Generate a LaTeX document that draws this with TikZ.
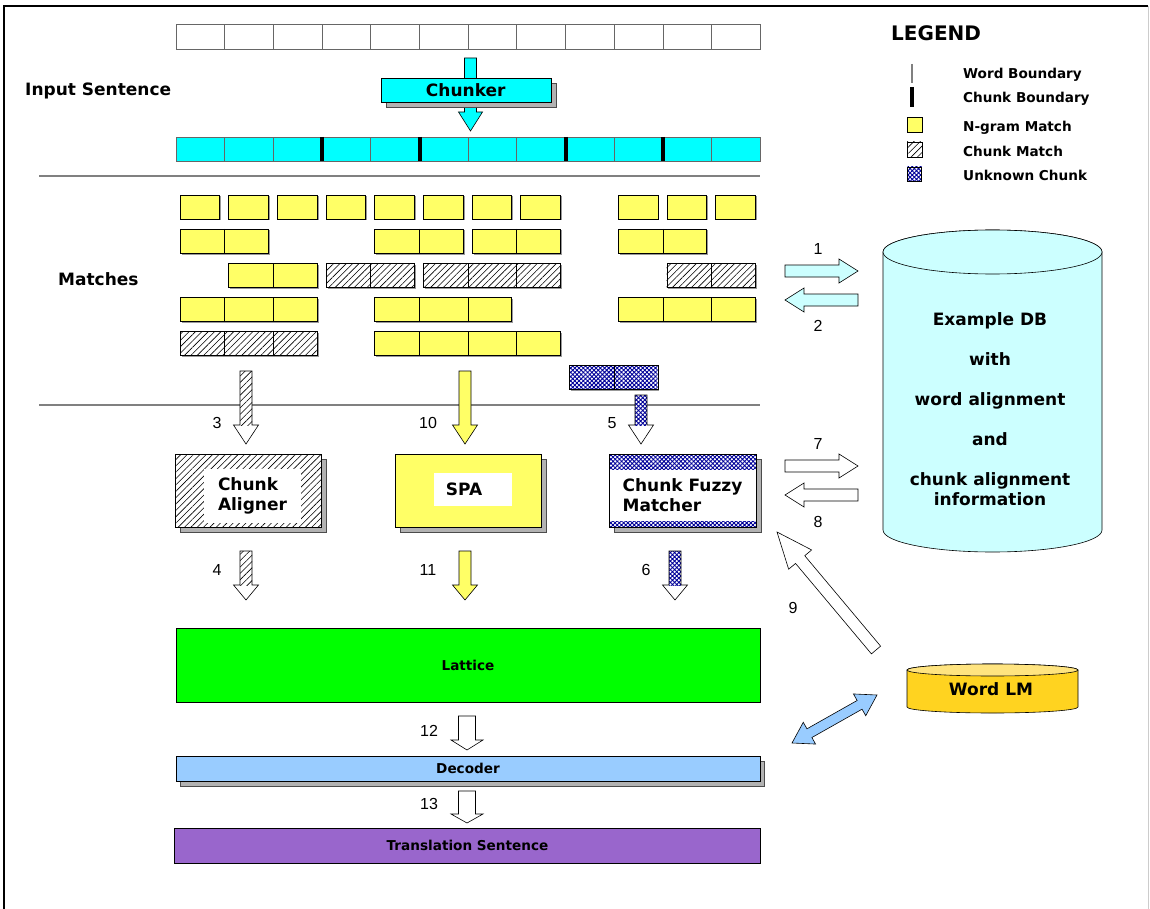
\documentclass[tikz,border=0pt]{standalone}
\usepackage{fontspec}
\setmainfont{DejaVu Sans}
\newfontfamily\numfont{Liberation Sans}
\usetikzlibrary{calc}
\usetikzlibrary{patterns.meta}
\usetikzlibrary{shadows}

\definecolor{chunkcyan}{HTML}{00FFFF}
\definecolor{ngramyel}{HTML}{FFFF66}
\definecolor{latgreen}{HTML}{00FF00}
\definecolor{decblue}{HTML}{99CCFF}
\definecolor{transpurple}{HTML}{9966CC}
\definecolor{dbcyan}{HTML}{CCFFFF}
\definecolor{lmgold}{HTML}{FFD320}
\definecolor{lmtop}{HTML}{FFE480}
\definecolor{unkblue}{HTML}{000099}

\newcommand{\bigbold}{\fontsize{17}{20}\selectfont\bfseries}
\newcommand{\smallbold}{\fontsize{13.6}{16}\selectfont\bfseries}
\newcommand{\steplab}{\numfont\fontsize{16}{19}\selectfont}

% fat block arrow: [fill], stem fill, from, to, half shaft, half head, head length
\newcommand{\fatarrow}[7][]{%
  \coordinate (fab) at ($(#4)!#7!(#3)$);
  \def\fapoly{($(#3)!#5!90:(#4)$) -- ($(fab)!#5!-90:(#3)$) -- ($(fab)!#6!-90:(#3)$) -- (#4)
    -- ($(fab)!#6!90:(#3)$) -- ($(fab)!#5!90:(#3)$) -- ($(#3)!#5!-90:(#4)$) -- cycle}%
  \fill[white,#1] \fapoly;
  \path[#2] ($(#3)!#5!90:(#4)$) -- ($(fab)!#5!-90:(#3)$) -- ($(fab)!#5!90:(#3)$) -- ($(#3)!#5!-90:(#4)$) -- cycle;
  \draw[arrowline] \fapoly;
}
% fat double arrow: [fill], end, end, half shaft, half head, head length
\newcommand{\dblarrow}[6][]{%
  \coordinate (dba) at ($(#2)!#6!(#3)$);
  \coordinate (dbb) at ($(#3)!#6!(#2)$);
  \filldraw[arrowline,#1] (#2) -- ($(dba)!#5!90:(#3)$) -- ($(dba)!#4!90:(#3)$) -- ($(dbb)!#4!-90:(#2)$)
    -- ($(dbb)!#5!-90:(#2)$) -- (#3) -- ($(dbb)!#5!90:(#2)$) -- ($(dbb)!#4!90:(#2)$)
    -- ($(dba)!#4!-90:(#3)$) -- ($(dba)!#5!-90:(#3)$) -- cycle;
}

\begin{document}
\begin{tikzpicture}[x=1pt,y=-1pt,
  wordcell/.style={draw=black!60,fill=white,minimum width=48.67pt,minimum height=25pt,inner sep=0pt},
  chunkcell/.style={wordcell,fill=chunkcyan,minimum height=24pt},
  chunkbnd/.style={line width=4pt},
  sepline/.style={draw=black!50,line width=1.2pt},
  ngram/.style={draw=black,fill=ngramyel},
  hatchfill/.style={preaction={fill=white},pattern={Lines[angle=45,distance=4.5pt,line width=0.6pt]},pattern color=black},
  hatch/.style={draw=black,hatchfill},
  unkfill/.style={preaction={fill=white},pattern={Hatch[angle=45,distance=3pt,line width=0.9pt]},pattern color=unkblue},
  unk/.style={draw=black,unkfill},
  boxshadow/.style={drop shadow={shadow xshift=5pt,shadow yshift=-5pt,opacity=1,fill=black!30,draw=black!70}},
  procbox/.style={draw=black,minimum width=146pt,minimum height=73pt,inner sep=0pt,boxshadow},
  whitebox/.style={fill=white,inner sep=0pt},
  bigtext/.style={font=\bigbold,inner sep=0pt},
  smalltext/.style={font=\smallbold,inner sep=0pt},
  steptext/.style={font=\steplab,inner sep=0pt},
  bar/.style={draw=black,minimum width=584pt,inner sep=0pt,font=\smallbold},
  arrowline/.style={draw=black,line width=0.6pt},
]
\useasboundingbox (0,0) rectangle (1150,909);
% frame
\draw[line width=2pt] (4,909) -- (4,6) -- (1148,6);
\draw[black!20,line width=1pt] (1148,6) -- (1148,909);

% input sentence
\node[bigtext,anchor=mid west] (insent) at (25,93) {Input Sentence};
\foreach \i in {0,...,11}
	\node[wordcell] (w\i) at ({176+48.67*(\i+0.5)},36.5) {};
\coordinate (ch-s) at (470.5,58);
\coordinate (ch-t) at (470.5,131);
\fatarrow[fill=chunkcyan]{}{ch-s}{ch-t}{6pt}{12pt}{19pt}
\node[draw=black,fill=chunkcyan,minimum width=170pt,minimum height=24pt,inner sep=0pt,
	boxshadow,font=\bigbold] (chunker) at (465.75,90) {Chunker};
\foreach \i in {0,...,11}
	\node[chunkcell] (c\i) at ({176+48.67*(\i+0.5)},149) {};
\foreach \i in {2,4,7,9}
	\draw[chunkbnd] (c\i.north east) -- (c\i.south east);
\draw[sepline] (39,176) -- (760,176);

% matches
\node[bigtext,anchor=mid west] (matches) at (58,283) {Matches};
\foreach \r/\a/\b/\k in {1/0/0/ngram,1/1/1/ngram,1/2/2/ngram,1/3/3/ngram,1/4/4/ngram,1/5/5/ngram,
	1/6/6/ngram,1/7/7/ngram,1/9/9/ngram,1/10/10/ngram,1/11/11/ngram,
	2/0/1/ngram,2/4/5/ngram,2/6/7/ngram,2/9/10/ngram,
	3/1/2/ngram,3/3/4/hatch,3/5/7/hatch,3/10/11/hatch,
	4/0/2/ngram,4/4/6/ngram,4/9/11/ngram,
	5/0/2/hatch,5/4/7/ngram,
	6/8/9/unk}{
	\pgfmathsetmacro\xa{176+48.67*\a+4}
	\pgfmathsetmacro\xb{176+48.67*(\b+1)-5}
	\pgfmathsetmacro\ya{161+34*\r}
	\fill[black!40] (\xa+1.5,\ya+1.5) rectangle (\xb+1.5,\ya+25.5);
	\draw[\k] (\xa,\ya) rectangle (\xb,\ya+24);
	\foreach \c in {\a,...,\b}{\ifnum\c>\a \draw (176+48.67*\c,\ya) -- ++(0,24);\fi}
}
\draw[sepline] (39,405) -- (760,405);

% arrows into the three modules
\coordinate (a3s) at (246,371);  \coordinate (a3t) at (246,444);
\coordinate (a10s) at (465,371); \coordinate (a10t) at (465,444);
\coordinate (a5s) at (641,395);  \coordinate (a5t) at (641,444);
\fatarrow{hatchfill}{a3s}{a3t}{6pt}{12.5pt}{19pt}
\fatarrow[fill=ngramyel]{}{a10s}{a10t}{6pt}{12.5pt}{19pt}
\fatarrow{unkfill}{a5s}{a5t}{6pt}{12.5pt}{19pt}
\node[steptext] (l3) at (217,423) {3};
\node[steptext] (l10) at (428,423) {10};
\node[steptext] (l5) at (612,423) {5};

% modules
\node[procbox,hatch] (aligner) at (248.5,490.5) {};
\node[whitebox,minimum width=97pt,minimum height=54pt,align=left,font=\bigbold]
	(alignerlbl) at (252.5,495.5) {Chunk\\Aligner};
\node[procbox,fill=ngramyel] (spa) at (468,490.5) {};
\node[whitebox,minimum width=78pt,minimum height=33pt] (spalbl) at (473,489.5) {};
\node[bigtext] (spatxt) at (464,489.5) {SPA};
\node[procbox,unk,minimum width=147pt] (fuzzy) at (682.5,490.5) {};
\node[whitebox,minimum width=146pt,minimum height=51pt,align=left,font=\bigbold]
	(fuzzylbl) at (682.5,495.5) {Chunk Fuzzy\\Matcher};

% arrows into the lattice
\coordinate (a4s) at (246,551);  \coordinate (a4t) at (246,600);
\coordinate (a11s) at (465,551); \coordinate (a11t) at (465,600);
\coordinate (a6s) at (675,551);  \coordinate (a6t) at (675,600);
\fatarrow{hatchfill}{a4s}{a4t}{6pt}{12.5pt}{15pt}
\fatarrow[fill=ngramyel]{}{a11s}{a11t}{6pt}{12.5pt}{15pt}
\fatarrow{unkfill}{a6s}{a6t}{6pt}{12.5pt}{15pt}
\node[steptext] (l4) at (217,570) {4};
\node[steptext] (l11) at (428,570) {11};
\node[steptext] (l6) at (646,570) {6};

% lattice, decoder, output
\node[bar,fill=latgreen,minimum height=74pt] (lattice) at (468,665) {Lattice};
\node[bar,fill=decblue,minimum height=25pt,
	drop shadow={shadow xshift=4pt,shadow yshift=-5pt,opacity=1,fill=black!30,draw=black!70}]
	(decoder) at (468,768.5) {Decoder};
\node[bar,fill=transpurple,minimum width=586pt,minimum height=35pt] (trans) at (467.5,845.5) {Translation Sentence};
\coordinate (a12s) at (467,716); \coordinate (a12t) at (467,750);
\coordinate (a13s) at (467,791); \coordinate (a13t) at (467,823);
\fatarrow{}{a12s}{a12t}{8.5pt}{16pt}{10pt}
\fatarrow{}{a13s}{a13t}{8.5pt}{16pt}{9pt}
\node[steptext] (l12) at (429,731) {12};
\node[steptext] (l13) at (429,804) {13};

% example database
\filldraw[fill=dbcyan,line width=0.6pt] (883,252) -- (883,530)
	arc[start angle=180,end angle=0,x radius=109.5,y radius=22] -- (1102,252)
	arc[start angle=0,end angle=-180,x radius=109.5,y radius=22] -- cycle;
\filldraw[fill=dbcyan,line width=0.6pt] (992.5,252) ellipse[x radius=109.5,y radius=22];
\node[bigtext,align=center] (db) at (990,409)
	{Example DB\\[20pt]with\\[20pt]word alignment\\[20pt]and\\[20pt]chunk alignment\\information};

% word language model
\filldraw[fill=lmgold,line width=0.6pt] (907,670) -- (907,707)
	arc[start angle=180,end angle=0,x radius=85.5,y radius=6] -- (1078,670)
	arc[start angle=0,end angle=-180,x radius=85.5,y radius=6] -- cycle;
\filldraw[fill=lmtop,line width=0.6pt] (992.5,670) ellipse[x radius=85.5,y radius=6];
\node[bigtext] (lm) at (991,689) {Word LM};

% exchanges with the database
\coordinate (a1s) at (785,271); \coordinate (a1t) at (858,271);
\coordinate (a2s) at (858,300); \coordinate (a2t) at (785,300);
\coordinate (a7s) at (785,466); \coordinate (a7t) at (858,466);
\coordinate (a8s) at (858,495); \coordinate (a8t) at (785,495);
\fatarrow[fill=dbcyan]{}{a1s}{a1t}{6pt}{12pt}{19pt}
\fatarrow[fill=dbcyan]{}{a2s}{a2t}{6pt}{12pt}{19pt}
\fatarrow{}{a7s}{a7t}{6pt}{12pt}{19pt}
\fatarrow{}{a8s}{a8t}{6pt}{12pt}{19pt}
\node[steptext] (l1) at (818,249) {1};
\node[steptext] (l2) at (818,326) {2};
\node[steptext] (l7) at (818,444) {7};
\node[steptext] (l8) at (818,522) {8};

% language model links
\coordinate (a9s) at (876,650); \coordinate (a9t) at (777,532);
\fatarrow{}{a9s}{a9t}{6pt}{15pt}{36pt}
\node[steptext] (l9) at (793,608) {9};
\coordinate (lmd) at (792,743); \coordinate (lmu) at (877,695);
\dblarrow[fill=decblue]{lmd}{lmu}{5pt}{12.5pt}{20pt}

% legend
\node[font=\fontsize{20}{24}\selectfont\bfseries,anchor=mid west,inner sep=0pt] (legend) at (891,37.5) {LEGEND};
\draw[black!50,line width=1.2pt] (912,64) -- (912,83);
\draw[line width=4pt] (912,87) -- (912,107);
\node[ngram,minimum size=15pt,inner sep=0pt] (legng) at (914.5,124.5) {};
\node[hatch,minimum size=15pt,inner sep=0pt] (legcm) at (914.5,149.5) {};
\node[unk,minimum size=14pt,inner sep=0pt] (leguc) at (914.5,174) {};
\foreach \y/\t [count=\n] in {76/Word Boundary,100/Chunk Boundary,129/N-gram Match,154/Chunk Match,178/Unknown Chunk}
	\node[smalltext,anchor=mid west] (leg\n) at (963,\y) {\t};
\end{tikzpicture}
\end{document}
